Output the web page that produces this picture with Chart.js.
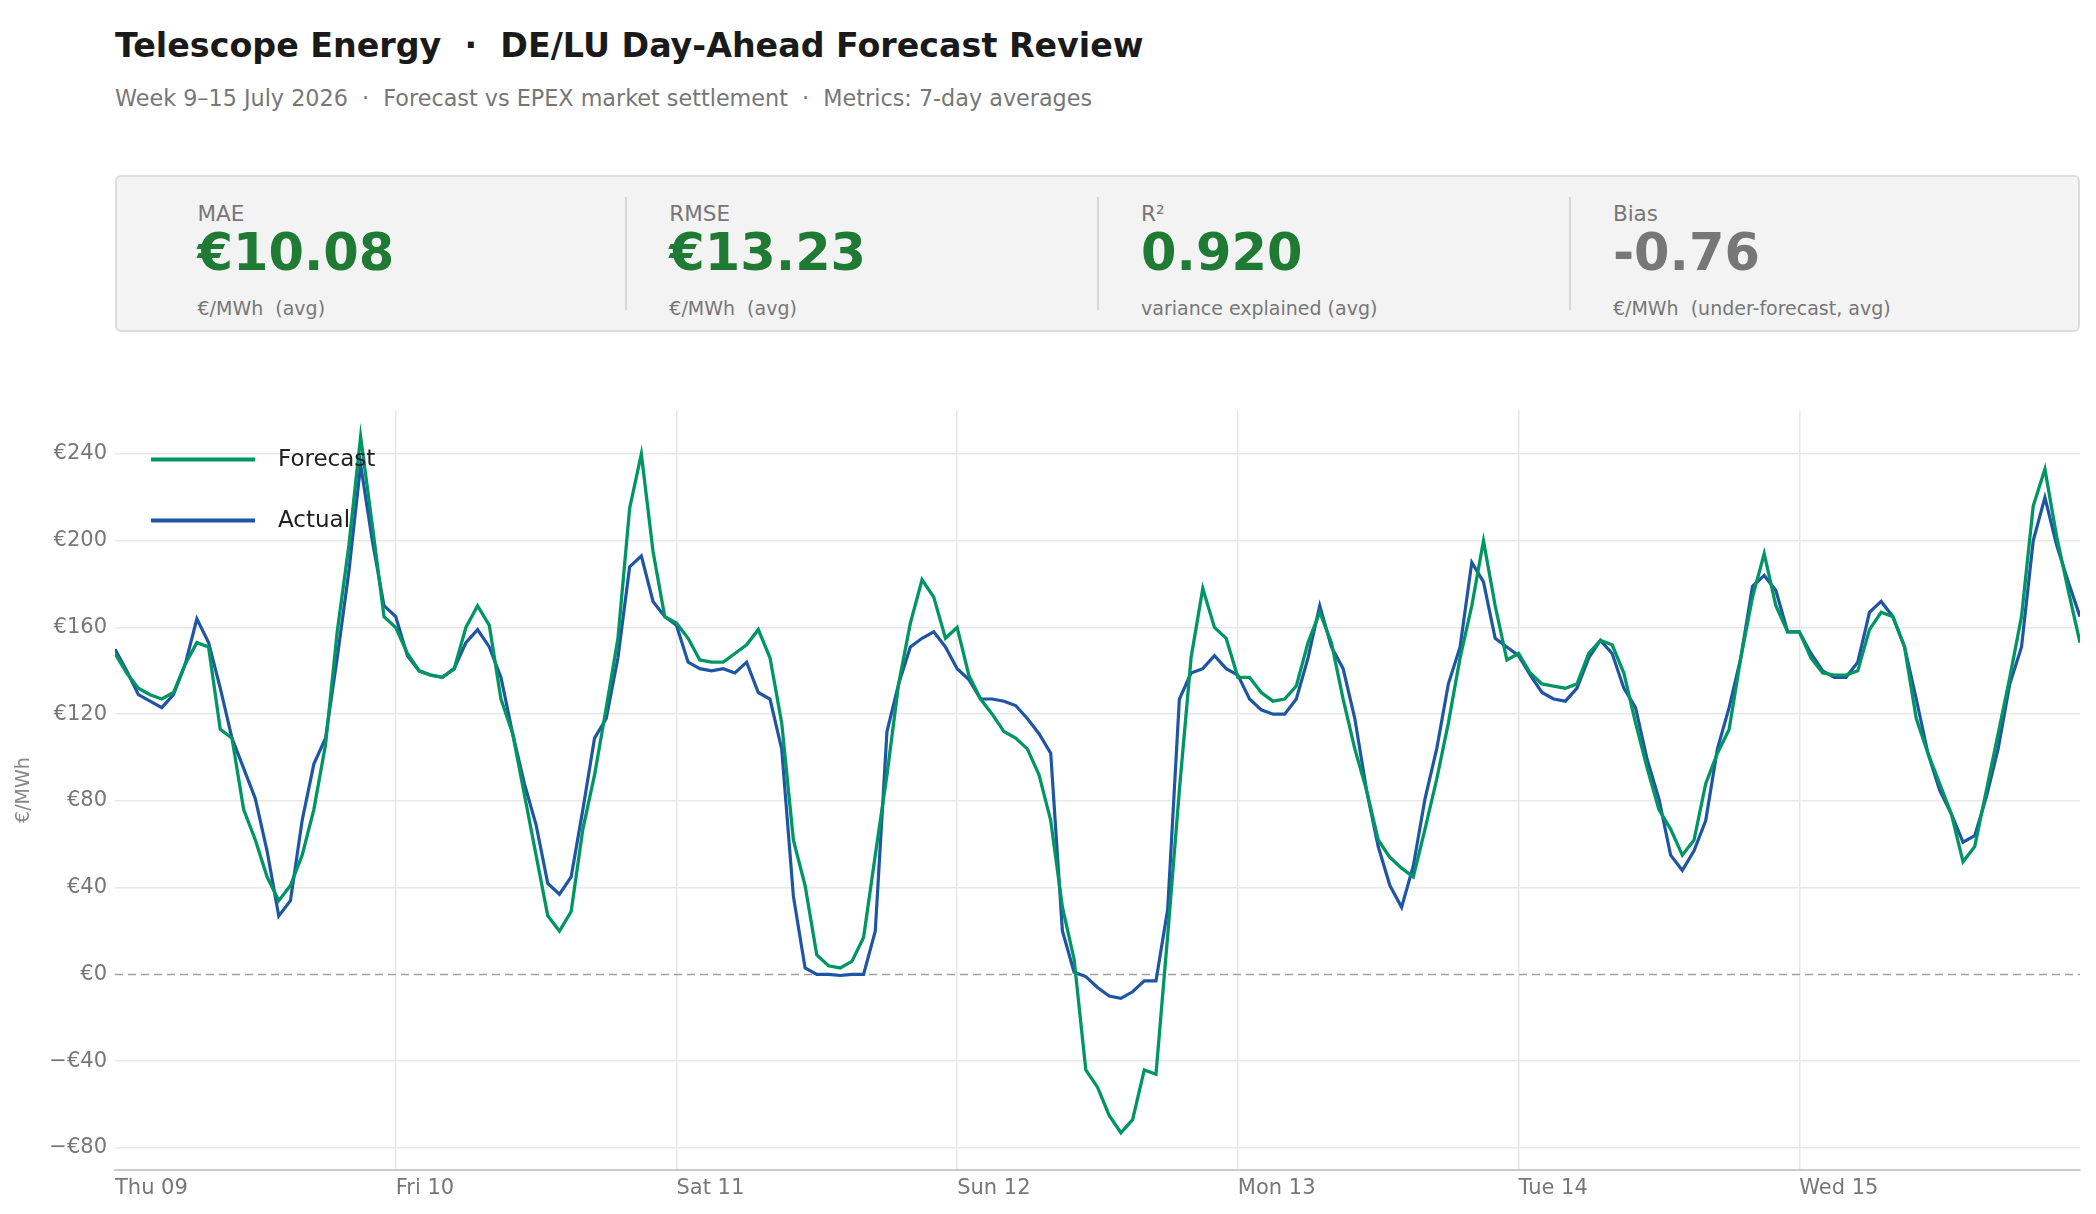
<!DOCTYPE html>
<html>
<head>
<meta charset="utf-8">
<script src="https://cdn.jsdelivr.net/npm/chart.js@4.4.1/dist/chart.umd.min.js"></script>
<style>
  body { margin: 0; width: 2096px; height: 1214px; overflow: hidden; background: #fff; font-family: 'DejaVu Sans', sans-serif; }
  .abs { position: absolute; white-space: pre; line-height: 1; }
  #title { left: 115px; top: 28.5px; font-size: 33.3px; font-weight: bold; color: #1a1a1a; }
  #subtitle { left: 115px; top: 87px; font-size: 22.3px; color: #777; }
  #panel { position: absolute; left: 115px; top: 175px; width: 1965px; height: 157px; box-sizing: border-box;
           background: #f3f3f3; border: 2px solid #dcdcdc; border-radius: 6px; }
  .kpi-label { font-size: 21.5px; color: #777; top: 203px; }
  .kpi-value { font-size: 51px; font-weight: bold; top: 227px; }
  .kpi-sub { font-size: 19px; color: #777; top: 299px; }
  .sep { position: absolute; top: 197px; width: 2px; height: 113px; background: #d6d6d6; }
  #wrap { position: absolute; left: 0; top: 390px; width: 2096px; height: 824px; }
</style>
</head>
<body>
<div id="title" class="abs">Telescope Energy  ·  DE/LU Day-Ahead Forecast Review</div>
<div id="subtitle" class="abs">Week 9–15 July 2026  ·  Forecast vs EPEX market settlement  ·  Metrics: 7-day averages</div>
<div id="panel"></div>
<div id="kpis"></div>
<div id="wrap"><canvas id="priceChart"></canvas></div>

<script>
// KPI-Kacheln
const kpiLabels = ['MAE', 'RMSE', 'R²', 'Bias'];
const kpiValues = ['€10.08', '€13.23', '0.920', '-0.76'];
const kpiSubs = ['€/MWh  (avg)', '€/MWh  (avg)', 'variance explained (avg)', '€/MWh  (under-forecast, avg)'];
const kpiColors = ['#1f7a34', '#1f7a34', '#1f7a34', '#777777'];

// x-axis: hours from Thu 09 00:00, one label per day
const dayLabels = ['Thu 09', 'Fri 10', 'Sat 11', 'Sun 12', 'Mon 13', 'Tue 14', 'Wed 15'];
const yTicks = [-80, -40, 0, 40, 80, 120, 160, 200, 240];

// hourly prices €/MWh, one row per day (last value = end of Wed)
const forecast = [
  148, 139, 132, 129, 127, 130, 143, 153, 151, 113, 109, 76, 62, 45, 34, 41, 55, 76, 106, 158, 198, 248, 207, 165,
  160, 148, 140, 138, 137, 141, 160, 170, 161, 127, 111, 83, 55, 27, 20, 29, 67, 92, 123, 155, 215, 240, 195, 165,
  162, 155, 145, 144, 144, 148, 152, 159, 146, 116, 62, 41, 9, 4, 3, 6, 17, 55, 92, 134, 162, 182, 174, 155,
  160, 138, 127, 120, 112, 109, 104, 92, 71, 31, 7, -44, -52, -65, -73, -67, -44, -46, 18, 85, 146, 178, 160, 155,
  137, 137, 130, 126, 127, 133, 153, 167, 153, 127, 104, 85, 62, 54, 49, 45, 67, 90, 116, 146, 170, 200, 170, 145,
  148, 139, 134, 133, 132, 134, 148, 154, 152, 139, 116, 95, 76, 67, 55, 62, 88, 102, 113, 146, 174, 194, 170, 158,
  158, 146, 139, 138, 138, 140, 159, 167, 165, 151, 118, 102, 88, 74, 52, 59, 85, 111, 137, 165, 216, 233, 202, 177, 153
];
const actual = [
  150, 140, 129, 126, 123, 129, 143, 164, 153, 132, 109, 95, 81, 57, 27, 34, 71, 97, 109, 146, 186, 235, 200, 170,
  165, 147, 140, 138, 137, 141, 153, 159, 151, 137, 111, 88, 69, 42, 37, 45, 76, 109, 118, 146, 188, 193, 172, 165,
  161, 144, 141, 140, 141, 139, 144, 130, 127, 104, 36, 3, 0, 0, -0.5, 0, 0, 20, 112, 134, 151, 155, 158, 151,
  141, 136, 127, 127, 126, 124, 118, 111, 102, 20, 1, -1, -6, -10, -11, -8, -3, -3, 30, 127, 139, 141, 147, 141,
  138, 127, 122, 120, 120, 127, 146, 170, 151, 141, 118, 85, 59, 41, 31, 50, 81, 104, 134, 151, 190, 181, 155, 151,
  147, 138, 130, 127, 126, 132, 146, 154, 148, 132, 123, 99, 81, 55, 48, 57, 71, 104, 123, 146, 179, 184, 177, 158,
  158, 148, 140, 137, 137, 144, 167, 172, 165, 151, 127, 102, 85, 74, 61, 64, 82, 104, 134, 151, 200, 220, 198, 181, 165
];

document.addEventListener('DOMContentLoaded', function () {
  const kpiBox = document.getElementById('kpis');
  const colStep = 471.8;
  kpiLabels.forEach(function (lbl, i) {
    const x = 197.5 + i * colStep;
    kpiBox.insertAdjacentHTML('beforeend',
      '<div class="abs kpi-label" style="left:' + x + 'px">' + lbl + '</div>' +
      '<div class="abs kpi-value" style="left:' + x + 'px;color:' + kpiColors[i] + '">' + kpiValues[i] + '</div>' +
      '<div class="abs kpi-sub" style="left:' + x + 'px">' + kpiSubs[i] + '</div>');
    if (i < 3) {
      kpiBox.insertAdjacentHTML('beforeend', '<div class="sep" style="left:' + (625 + i * colStep) + 'px"></div>');
    }
  });

  Chart.defaults.font.family = "'DejaVu Sans', sans-serif";

  // gestrichelte Nulllinie
  const zeroLine = {
    id: 'zeroLine',
    beforeDatasetsDraw(chart) {
      const { ctx, chartArea } = chart;
      const y = chart.scales.y.getPixelForValue(0);
      ctx.save();
      ctx.strokeStyle = '#a0a0a0';
      ctx.lineWidth = 1.6;
      ctx.setLineDash([8, 5]);
      ctx.beginPath();
      ctx.moveTo(chartArea.left, y);
      ctx.lineTo(chartArea.right, y);
      ctx.stroke();
      ctx.restore();
    },
  };

  // Legende innerhalb der Zeichenfläche
  const innerLegend = {
    id: 'innerLegend',
    afterDatasetsDraw(chart) {
      const { ctx, chartArea } = chart;
      ctx.save();
      ctx.font = "23px 'DejaVu Sans'";
      ctx.textBaseline = 'middle';
      chart.data.datasets.forEach(function (ds, i) {
        const y = chartArea.top + 49 + i * 61;
        ctx.strokeStyle = ds.borderColor;
        ctx.lineWidth = 4;
        ctx.beginPath();
        ctx.moveTo(chartArea.left + 36, y);
        ctx.lineTo(chartArea.left + 140, y);
        ctx.stroke();
        ctx.fillStyle = '#222';
        ctx.fillText(ds.label, chartArea.left + 163, y);
      });
      ctx.restore();
    },
  };

  const ctx = document.getElementById('priceChart').getContext('2d');
  new Chart(ctx, {
    type: 'line',
    data: {
      datasets: [
        {
          label: 'Forecast',
          data: forecast.map((v, i) => ({ x: i, y: v })),
          borderColor: '#009664',
          borderWidth: 3.3,
        },
        {
          label: 'Actual',
          data: actual.map((v, i) => ({ x: i, y: v })),
          borderColor: '#1e55a5',
          borderWidth: 3.2,
        },
      ],
    },
    options: {
      responsive: true,
      maintainAspectRatio: false,
      animation: false,
      layout: { padding: { top: 18, right: 16, left: 0, bottom: 0 } },
      elements: { point: { radius: 0 }, line: { tension: 0 } },
      plugins: { legend: { display: false }, tooltip: { enabled: false } },
      scales: {
        x: {
          type: 'linear',
          min: 0,
          max: 168,
          afterBuildTicks: function (s) { s.ticks = dayLabels.map((_, i) => ({ value: i * 24 })); },
          afterFit: function (s) { s.height = 44.4; },
          grid: {
            color: c => (c.index === 0 ? 'rgba(0,0,0,0)' : '#e8e8e8'),
            lineWidth: 1.5,
            drawTicks: false,
          },
          border: { display: true, color: '#cccccc', width: 2 },
          ticks: {
            align: 'start',
            padding: 6,
            color: '#777',
            font: { size: 21 },
            maxRotation: 0,
            autoSkip: false,
            callback: (v, i) => dayLabels[i],
          },
        },
        y: {
          min: -90,
          max: 260,
          afterBuildTicks: function (s) { s.ticks = yTicks.map(v => ({ value: v })); },
          afterFit: function (s) { s.width = 115; },
          grid: {
            color: c => (c.tick && c.tick.value === 0 ? 'rgba(0,0,0,0)' : '#e8e8e8'),
            lineWidth: 1.5,
            drawTicks: false,
          },
          border: { display: false },
          ticks: {
            padding: 8,
            color: '#777',
            font: { size: 21 },
            callback: v => (v < 0 ? '−€' + Math.abs(v) : '€' + v),
          },
          title: { display: true, text: '€/MWh', color: '#888', font: { size: 19 }, padding: { top: 13, bottom: 0 } },
        },
      },
    },
    plugins: [zeroLine, innerLegend],
  });
});
</script>
</body>
</html>
